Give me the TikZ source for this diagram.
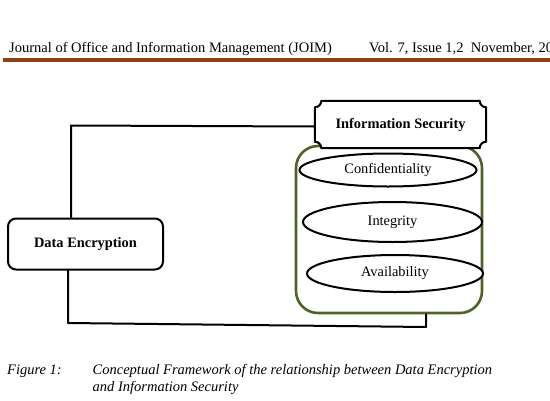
\documentclass[tikz,border=0pt]{standalone}
\usepackage{fontspec}
\setmainfont{Liberation Serif}
\usetikzlibrary{shapes.geometric,calc}
\definecolor{barbrown}{RGB}{140,66,20}
\definecolor{secgreen}{RGB}{79,98,40}
\begin{document}
\begin{tikzpicture}[x=1pt,y=-1pt,
  hdr/.style={anchor=base west,inner sep=0pt,font=\fontsize{14.5}{17}\selectfont},
  captxt/.style={anchor=base west,inner sep=0pt,font=\fontsize{14.5}{17}\selectfont\itshape},
  elltxt/.style={ellipse,draw,line width=2pt,fill=white,inner sep=0pt,font=\fontsize{14.4}{16}\selectfont},
  conn/.style={line width=2pt,line cap=round,line join=round}]
\useasboundingbox (0,0) rectangle (550,400);
% header
\node[hdr] (h1) at (9,52.7) {Journal of Office and Information Management (JOIM)};
\node[hdr] (h2) at (369,52.7) {Vol. 7, Issue 1,2\ \ November, 20};
\fill[barbrown] (3,58) rectangle (550,62);
% green container
\node[draw=secgreen,line width=2.6pt,rounded corners=22pt,minimum width=186pt,minimum height=167pt,inner sep=0pt] (sec) at (389,229.5) {};
% ellipses
\node[elltxt,minimum width=177pt,minimum height=33pt] (conf) at (388,170) {Confidentiality};
\node[elltxt,minimum width=179pt,minimum height=40pt] (integ) at (392.5,222) {Integrity};
\node[elltxt,minimum width=176pt,minimum height=37pt] (avail) at (395,273.5) {Availability};
% information security plaque
\node[minimum width=171pt,minimum height=47pt,inner sep=0pt] (is) at (400.5,124.5) {};
\fill[white,draw=black,line width=2pt,line join=round]
  ($(is.north west)+(6.5,0)$) .. controls ($(is.north west)+(6.5,3.6)$) and ($(is.north west)+(3.6,6.5)$) .. ($(is.north west)+(0,6.5)$)
  -- ($(is.south west)+(0,-6.5)$) .. controls ($(is.south west)+(3.6,-6.5)$) and ($(is.south west)+(6.5,-3.6)$) .. ($(is.south west)+(6.5,0)$)
  -- ($(is.south east)+(-6.5,0)$) .. controls ($(is.south east)+(-6.5,-3.6)$) and ($(is.south east)+(-3.6,-6.5)$) .. ($(is.south east)+(0,-6.5)$)
  -- ($(is.north east)+(0,6.5)$) .. controls ($(is.north east)+(-3.6,6.5)$) and ($(is.north east)+(-6.5,3.6)$) .. ($(is.north east)+(-6.5,0)$)
  -- cycle;
\node[inner sep=0pt,font=\fontsize{14.4}{16}\selectfont\bfseries] (istxt) at (is.center) {Information Security};
% data encryption
\node[draw,line width=2pt,rounded corners=8pt,minimum width=155pt,minimum height=51pt,inner sep=0pt,font=\fontsize{14.4}{16}\selectfont\bfseries] (de) at (85.5,244) {Data Encryption};
% connectors
\coordinate (c1) at (71,125.5);
\coordinate (c2) at (68,323);
\coordinate (c3) at (426,327);
\draw[conn] (de.north -| c1) -- (c1) -- ([yshift=-2]is.west);
\draw[conn] (de.south -| c2) -- (c2) -- (c3) -- (sec.south -| c3);
% caption
\node[captxt] (f1) at (7,374) {Figure 1:};
\node[captxt] (f2) at (92.5,374) {Conceptual Framework of the relationship between Data Encryption};
\node[captxt] (f3) at (92.5,391) {and Information Security};
\end{tikzpicture}
\end{document}
